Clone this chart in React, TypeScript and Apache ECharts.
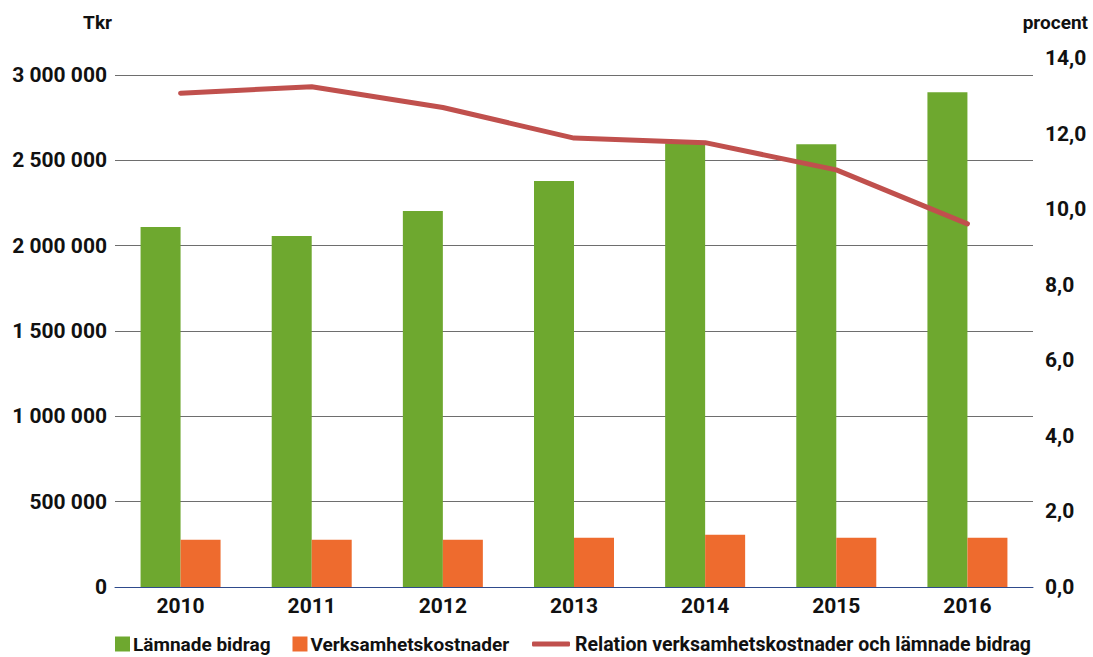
import React, { useEffect, useRef } from "react";
import * as echarts from "echarts";

const years = ["2010", "2011", "2012", "2013", "2014", "2015", "2016"];
const lamnadeBidrag = [2110000, 2057000, 2203000, 2379000, 2601000, 2595000, 2900000];
const verksamhetskostnader = [277000, 277000, 277000, 289000, 306000, 289000, 289000];
const relation = [13.07, 13.24, 12.69, 11.88, 11.76, 11.04, 9.61];

const FONT = "Roboto, 'Liberation Sans', sans-serif";

const fmtThousands = (v: number) =>
  String(Math.round(v)).replace(/\B(?=(\d{3})+(?!\d))/g, " ");
const fmtPct = (v: number) => v.toFixed(1).replace(".", ",");

export default function App() {
  const ref = useRef<HTMLDivElement>(null);
  useEffect(() => {
    if (!ref.current) return;
    const chart = echarts.init(ref.current, undefined, { renderer: "svg" });
    const txt = { fontFamily: FONT, fontWeight: "bold" as const, color: "#111" };
    chart.setOption({
      animation: false,
      backgroundColor: "#fff",
      textStyle: { fontFamily: FONT },
      grid: { left: 115, right: 60, top: 58, bottom: 70, containLabel: false },
      graphic: [
        {
          type: "text",
          right: 981,
          top: 13,
          style: { text: "Tkr", fill: "#111", fontFamily: FONT, fontWeight: "bold", fontSize: 19 },
        },
        {
          type: "text",
          right: 5,
          top: 13,
          style: { text: "procent", fill: "#111", fontFamily: FONT, fontWeight: "bold", fontSize: 19 },
        },
      ],
      legend: [
        {
          left: 115,
          top: 634,
          padding: 0,
          itemWidth: 15,
          itemHeight: 15,
          itemGap: 22,
          textStyle: { ...txt, fontSize: 19, lineHeight: 20, padding: [0, 0, 0, -2] },
          data: [
            { name: "Lämnade bidrag", icon: "rect" },
            { name: "Verksamhetskostnader", icon: "rect" },
          ],
        },
        {
          left: 532,
          top: 634,
          padding: 0,
          itemWidth: 38,
          itemHeight: 5,
          textStyle: { ...txt, fontSize: 19.5, lineHeight: 20 },
          data: [{ name: "Relation verksamhetskostnader och lämnade bidrag", icon: "roundRect" }],
        },
      ],
      xAxis: {
        type: "category",
        data: years,
        axisLine: { lineStyle: { color: "#2e4a8c", width: 1 } },
        axisTick: { show: false },
        axisLabel: { ...txt, fontSize: 21, margin: 8 },
      },
      yAxis: [
        {
          type: "value",
          min: 0,
          max: 3100000,
          interval: 500000,
          axisLine: { show: false },
          axisTick: { show: false },
          splitLine: { show: true, showMaxLine: false, lineStyle: { color: "#6e6e6e", width: 1 } },
          axisLabel: { ...txt, fontSize: 21, margin: 8, showMaxLabel: false, formatter: fmtThousands },
        },
        {
          type: "value",
          min: 0,
          max: 14,
          interval: 2,
          position: "right",
          axisLine: { show: false },
          axisTick: { show: false },
          splitLine: { show: false },
          axisLabel: { ...txt, fontSize: 21, margin: 12, formatter: fmtPct },
        },
      ],
      series: [
        {
          name: "Lämnade bidrag",
          type: "bar",
          data: lamnadeBidrag,
          barWidth: 40,
          barGap: "0%",
          itemStyle: { color: "#6ea82f" },
        },
        {
          name: "Verksamhetskostnader",
          type: "bar",
          data: verksamhetskostnader,
          barWidth: 40,
          barGap: "0%",
          itemStyle: { color: "#ee6b2e" },
        },
        {
          name: "Relation verksamhetskostnader och lämnade bidrag",
          type: "line",
          yAxisIndex: 1,
          data: relation,
          showSymbol: false,
          symbol: "none",
          lineStyle: { color: "#c0504d", width: 5, cap: "round", join: "round" },
          itemStyle: { color: "#c0504d" },
        },
      ],
    });
    return () => chart.dispose();
  }, []);
  return <div ref={ref} style={{ width: 1093, height: 657, position: "absolute", left: 0, top: 0 }} />;
}
